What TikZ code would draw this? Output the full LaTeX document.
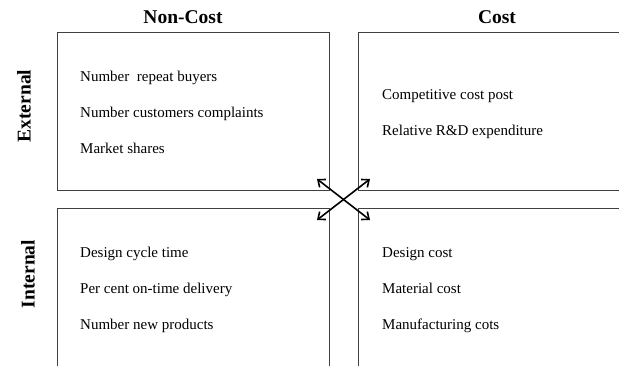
\documentclass[tikz,border=0pt]{standalone}
\usepackage{fontspec}
\setmainfont{Liberation Serif}
\usetikzlibrary{positioning, arrows.meta}
\tikzset{ quad/.style={draw=black!75, line width=0.9pt, inner sep=0pt},
        head/.style={font=\fontsize{19.5}{22}\selectfont\bfseries, inner sep=0pt}}
\tikzset{ item/.style={anchor=base west, inner sep=0pt,
            font=\fontsize{15}{17}\selectfont},
        twoway/.style={{Straight Barb[length=6pt,width=10pt]}-{Straight Barb[length=6pt,width=10pt]},
            line width=1.6pt}}

\begin{document}
\begin{tikzpicture}[x=1pt,y=-1pt]

\clip (0,0) rectangle (619,365);

\node[quad, minimum width=272pt, minimum height=158pt] (extnon) at (193,111) {};
\node[quad, minimum width=282pt, minimum height=158pt] (extcost) at (499,111) {};
\node[quad, minimum width=272pt, minimum height=182pt] (intnon) at (193,299) {};
\node[quad, minimum width=282pt, minimum height=182pt] (intcost) at (499,299) {};

\node[head] (noncost) at (183,17) {Non-Cost};
\node[head] (cost) at (497,17) {Cost};
\node[head, rotate=90] (external) at (24,106) {External};
\node[head, rotate=90] (internal) at (28,274) {Internal};

\foreach \i/\t in {1/Number\ \ repeat buyers, 2/Number customers complaints,
  3/Market shares} %external non-cost
  \node[item] (en\i) at (80,45+36*\i) {\t};
\foreach \i/\t in {1/Competitive cost post, 2/Relative R\&D expenditure} %external cost
  \node[item] (ec\i) at (382,63+36*\i) {\t};
\foreach \i/\t in {1/Design cycle time, 2/Per cent on-time delivery,
  3/Number new products} %internal non-cost
  \node[item] (in\i) at (80,221+36*\i) {\t};
\foreach \i/\t in {1/Design cost, 2/Material cost, 3/Manufacturing cots} %internal cost
  \node[item] (ic\i) at (382,221+36*\i) {\t};

\coordinate (nw) at (317,179);
\coordinate (ne) at (370,179);
\coordinate (sw) at (317,220);
\coordinate (se) at (370,220);
\draw[twoway] (nw) -- (se);
\draw[twoway] (ne) -- (sw);

\end{tikzpicture}
\end{document}
